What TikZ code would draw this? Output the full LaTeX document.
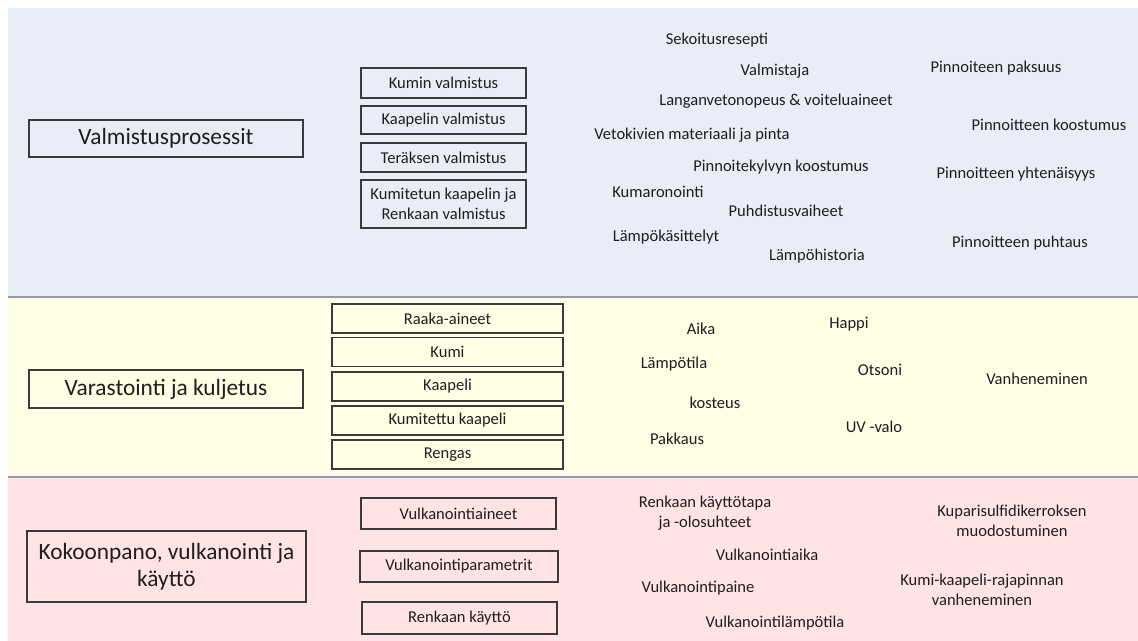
\documentclass[tikz,border=0pt]{standalone}
\usepackage{fontspec}
\setmainfont{Carlito}
\definecolor{bandA}{HTML}{E9EDF7}
\definecolor{bandB}{HTML}{FFFFE6}
\definecolor{bandC}{HTML}{FFE3E5}
\definecolor{sepline}{HTML}{8E9BB0}
\definecolor{boxline}{HTML}{3A3A3A}
\definecolor{txt}{HTML}{1E1E1E}
\begin{document}
\begin{tikzpicture}[x=0.75pt,y=-0.75pt,
  lbl/.style={font=\fontsize{12.4}{14.6}\selectfont, text=txt, align=center, inner sep=0pt},
  pbox/.style={draw=boxline, line width=0.8pt, font=\fontsize{12.4}{14.6}\selectfont, text=txt, align=center, inner sep=0pt, minimum width=123.75pt},
  sbox/.style={pbox, minimum width=173.25pt, minimum height=21.75pt},
  vbox/.style={pbox, minimum height=23.25pt},
  bigbox/.style={draw=boxline, line width=0.8pt, font=\fontsize{17.5}{20}\selectfont, text=txt, align=center, inner sep=0pt, minimum width=205.5pt},
  sep/.style={draw=sepline, line width=1.2pt}
]
\useasboundingbox (0,0) rectangle (1138,641);
% bands
\fill[bandA] (8,8) rectangle (1138,297);
\fill[bandB] (8,297) rectangle (1138,477);
\fill[bandC] (8,477) rectangle (1138,641);
\coordinate (s1l) at (8,297); \coordinate (s1r) at (1138,297);
\coordinate (s2l) at (8,477); \coordinate (s2r) at (1138,477);
\draw[sep] (s1l) -- (s1r);
\draw[sep] (s2l) -- (s2r);

% --- top band
\node[bigbox, minimum height=27.75pt] (valm) at (166,138.5) {Valmistusprosessit};
\node[pbox, minimum height=22.5pt] (kumin) at (443.5,83) {Kumin valmistus};
\node[pbox, minimum height=21pt] (kaap) at (443.5,120) {Kaapelin valmistus};
\node[pbox, minimum height=21.75pt] (ter) at (443.5,157.5) {Teräksen valmistus};
\node[pbox, minimum height=36pt] (kumit) at (443.5,204) {Kumitetun kaapelin ja\\Renkaan valmistus};

\node[lbl] (t1) at (717,40) {Sekoitusresepti};
\node[lbl] (t2) at (775,71) {Valmistaja};
\node[lbl] (t3) at (996,68) {Pinnoiteen paksuus};
\node[lbl] (t4) at (776,101) {Langanvetonopeus \& voiteluaineet};
\node[lbl] (t5) at (1049,125) {Pinnoitteen koostumus};
\node[lbl] (t6) at (692,135) {Vetokivien materiaali ja pinta};
\node[lbl] (t7) at (781,167) {Pinnoitekylvyn koostumus};
\node[lbl] (t8) at (1016,174) {Pinnoitteen yhtenäisyys};
\node[lbl] (t9) at (658,192) {Kumaronointi};
\node[lbl] (t10) at (786,211) {Puhdistusvaiheet};
\node[lbl] (t11) at (666,237) {Lämpökäsittelyt};
\node[lbl] (t12) at (817,256) {Lämpöhistoria};
\node[lbl] (t13) at (1020,243) {Pinnoitteen puhtaus};

% --- middle band
\node[bigbox, minimum height=28.5pt] (var) at (166,389) {Varastointi ja kuljetus};
\node[sbox] (raaka) at (447.5,318.5) {Raaka-aineet};
\node[sbox] (kumi) at (447.5,352) {Kumi};
\node[sbox] (kaapeli) at (447.5,386.5) {Kaapeli};
\node[sbox] (kumitettu) at (447.5,420.5) {Kumitettu kaapeli};
\node[sbox] (rengas) at (447.5,454.5) {Rengas};

\node[lbl] (m1) at (701,329) {Aika};
\node[lbl] (m2) at (849,324) {Happi};
\node[lbl] (m3) at (674,364) {Lämpötila};
\node[lbl] (m4) at (880,370) {Otsoni};
\node[lbl] (m5) at (1037,379) {Vanheneminen};
\node[lbl] (m6) at (715,403) {kosteus};
\node[lbl] (m7) at (874,427) {UV -valo};
\node[lbl] (m8) at (677,439) {Pakkaus};

% --- bottom band
\node[bigbox, minimum width=209.25pt, minimum height=53.25pt] (kok) at (166.5,566.5) {Kokoonpano, vulkanointi ja\\käyttö};
\node[vbox, minimum width=146.25pt] (vaine) at (458.5,513.5) {Vulkanointiaineet};
\node[vbox, minimum width=148.5pt] (vparam) at (459,566.5) {Vulkanointiparametrit};
\node[vbox, minimum width=146.25pt, minimum height=24pt] (rkaytto) at (459.5,618) {Renkaan käyttö};

\node[lbl] (b1) at (705,513) {Renkaan käyttötapa\\ja -olosuhteet};
\node[lbl] (b2) at (1012,521) {Kuparisulfidikerroksen\\muodostuminen};
\node[lbl] (b3) at (767,555) {Vulkanointiaika};
\node[lbl] (b4) at (698,588) {Vulkanointipaine};
\node[lbl] (b5) at (982,590) {Kumi-kaapeli-rajapinnan\\vanheneminen};
\node[lbl] (b6) at (775,623) {Vulkanointilämpötila};
\end{tikzpicture}
\end{document}
